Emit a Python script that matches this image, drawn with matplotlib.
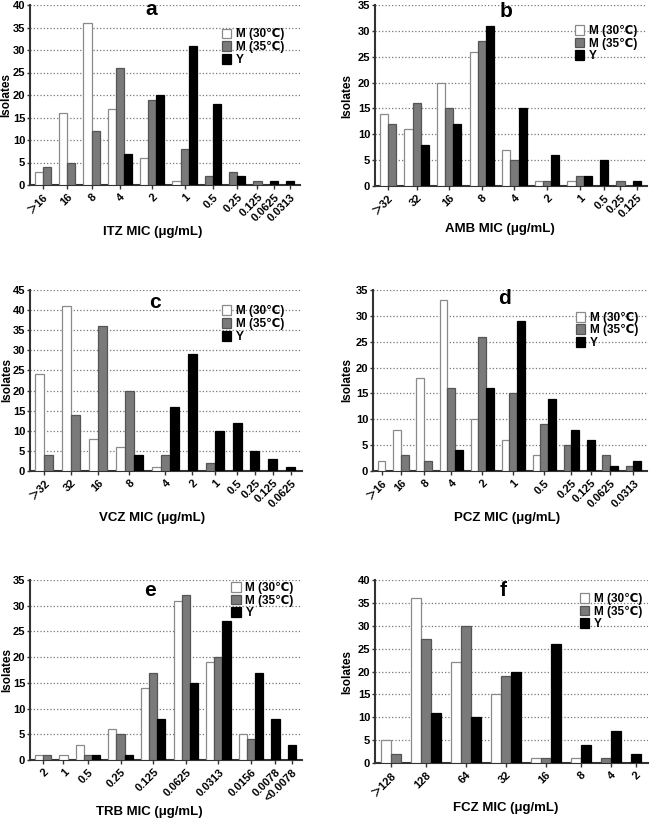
import matplotlib
matplotlib.use("Agg")
import matplotlib.pyplot as plt
from matplotlib.patches import Patch

plt.rcParams['font.family'] = ['Liberation Sans', 'DejaVu Sans', 'Noto Sans CJK SC']
plt.rcParams['font.weight'] = 'bold'

series_names = ['M (30℃)', 'M (35℃)', 'Y']

a_cats = ['＞16', '16', '8', '4', '2', '1', '0.5', '0.25', '0.125', '0.0625', '0.0313']
a_m30 = [3, 16, 36, 17, 6, 1, 0, 0, 0, 0, 0]
a_m35 = [4, 5, 12, 26, 19, 8, 2, 3, 1, 0, 0]
a_y = [0, 0, 0, 7, 20, 31, 18, 2, 0, 1, 1]

b_cats = ['＞32', '32', '16', '8', '4', '2', '1', '0.5', '0.25', '0.125']
b_m30 = [14, 11, 20, 26, 7, 1, 1, 0, 0, 0]
b_m35 = [12, 16, 15, 28, 5, 1, 2, 0, 1, 0]
b_y = [0, 8, 12, 31, 15, 6, 2, 5, 0, 1]

c_cats = ['＞32', '32', '16', '8', '4', '2', '1', '0.5', '0.25', '0.125', '0.0625']
c_m30 = [24, 41, 8, 6, 1, 0, 0, 0, 0, 0, 0]
c_m35 = [4, 14, 36, 20, 4, 0, 2, 0, 0, 0, 0]
c_y = [0, 0, 0, 4, 16, 29, 10, 12, 5, 3, 1]

d_cats = ['＞16', '16', '8', '4', '2', '1', '0.5', '0.25', '0.125', '0.0625', '0.0313']
d_m30 = [2, 8, 18, 33, 10, 6, 3, 0, 0, 0, 0]
d_m35 = [0, 3, 2, 16, 26, 15, 9, 5, 0, 3, 1]
d_y = [0, 0, 0, 4, 16, 29, 14, 8, 6, 1, 2]

e_cats = ['2', '1', '0.5', '0.25', '0.125', '0.0625', '0.0313', '0.0156', '0.0078', '<0.0078']
e_m30 = [1, 1, 3, 6, 14, 31, 19, 5, 0, 0]
e_m35 = [1, 0, 1, 5, 17, 32, 20, 4, 0, 0]
e_y = [0, 0, 1, 1, 8, 15, 27, 17, 8, 3]

f_cats = ['＞128', '128', '64', '32', '16', '8', '4', '2']
f_m30 = [5, 36, 22, 15, 1, 1, 0, 0]
f_m35 = [2, 27, 30, 19, 1, 0, 1, 0]
f_y = [0, 11, 10, 20, 26, 4, 7, 2]

panels = [
    ('a', 'ITZ MIC (μg/mL)', a_cats, a_m30, a_m35, a_y, 40),
    ('b', 'AMB MIC (μg/mL)', b_cats, b_m30, b_m35, b_y, 35),
    ('c', 'VCZ MIC (μg/mL)', c_cats, c_m30, c_m35, c_y, 45),
    ('d', 'PCZ MIC (μg/mL)', d_cats, d_m30, d_m35, d_y, 35),
    ('e', 'TRB MIC (μg/mL)', e_cats, e_m30, e_m35, e_y, 35),
    ('f', 'FCZ MIC (μg/mL)', f_cats, f_m30, f_m35, f_y, 40),
]

W, H = 650, 818
# pixel boxes: left, top, right, bottom
boxes = [
    (30, 5, 300, 185),
    (375, 5, 647, 186),
    (30, 290, 302, 471),
    (373, 290, 647, 471),
    (30, 580, 302, 760),
    (375, 580, 648, 763),
]
title_pos = [(0.45, 0.975), (0.48, 0.965), (0.46, 0.93), (0.48, 0.955), (0.44, 0.94), (0.47, 0.945)]
leg_pos = [(0.71, 0.87), (0.735, 0.89), (0.705, 0.915), (0.74, 0.88), (0.74, 0.99), (0.75, 0.93)]
xlab_pos = [(0.455, -0.228), (0.46, -0.204), (0.45, -0.226), (0.49, -0.226), (0.44, -0.255), (0.48, -0.213)]
ylab_x = [-0.064, -0.08, -0.063, -0.073, -0.063, -0.08]

face = ['white', '#7a7a7a', 'black']
edge = ['#8a8a8a', '#555555', 'black']

fig = plt.figure(figsize=(W / 100, H / 100), dpi=100)

for (lab, xlabel, cats, m30, m35, y, ymax), (l, t, r, b), tp, lp, xp, yx in zip(
        panels, boxes, title_pos, leg_pos, xlab_pos, ylab_x):
    ax = fig.add_axes([l / W, 1 - b / H, (r - l) / W, (b - t) / H])
    vals = [m30, m35, y]
    slot = 0
    ticks = []
    for i in range(len(cats)):
        start = slot
        for s in range(3):
            v = vals[s][i]
            if v > 0:
                ax.bar(slot, v, width=1.0, color=face[s], edgecolor=edge[s],
                       linewidth=0.9, zorder=3)
                slot += 1
        ticks.append((start + slot - 1) / 2)
        slot += 1
    last = slot - 2
    ax.set_xlim(-1.1, last + 1.25)
    ax.set_ylim(0, ymax)
    ax.set_yticks(range(0, ymax + 1, 5))
    ax.set_xticks(ticks)
    ax.set_xticklabels(cats, rotation=45, ha='right', rotation_mode='anchor',
                       fontsize=8, fontweight='bold')
    for tl in ax.get_yticklabels():
        tl.set_fontsize(8)
        tl.set_fontweight('bold')
    ax.tick_params(axis='x', length=3, width=1, color='#333333', pad=2)
    ax.tick_params(axis='y', length=2.5, width=1, color='#333333', pad=1)
    ax.grid(axis='y', linestyle=':', color='#777777', linewidth=0.9, zorder=0)
    for sp in ['top', 'right']:
        ax.spines[sp].set_visible(False)
    for sp in ['left', 'bottom']:
        ax.spines[sp].set_linewidth(1.5)
        ax.spines[sp].set_color('#333333')
    ax.set_ylabel('Isolates', fontsize=8.5, fontweight='bold')
    ax.yaxis.set_label_coords(yx, 0.5)
    ax.set_xlabel(xlabel, fontsize=9.5, fontweight='bold')
    ax.xaxis.set_label_coords(xp[0], xp[1])
    ax.text(tp[0], tp[1], lab, transform=ax.transAxes, fontsize=15,
            fontweight='bold', ha='center', va='center')
    handles = [Patch(facecolor=face[s], edgecolor=edge[s], linewidth=0.9)
               for s in range(3)]
    ax.legend(handles, series_names, loc='upper left', bbox_to_anchor=lp,
              frameon=False, prop={'weight': 'bold', 'size': 8.5},
              handlelength=0.8, handleheight=0.9, handletextpad=0.4,
              labelspacing=0.05, borderpad=0, borderaxespad=0)

fig.savefig('out.png', dpi=100)
